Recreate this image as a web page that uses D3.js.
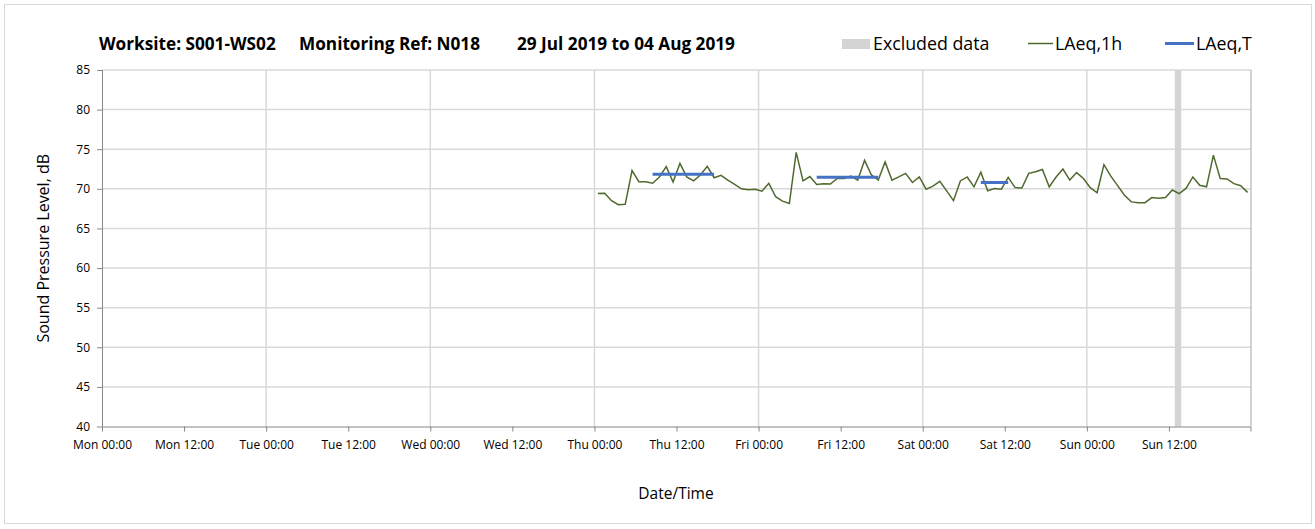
<!DOCTYPE html>
<html>
<head>
<meta charset="utf-8">
<script src="https://cdn.jsdelivr.net/npm/d3@7"></script>
<style>
  html, body { margin: 0; padding: 0; background: #fff; }
  svg text { font-family: "Open Sans", "Noto Sans", sans-serif; fill: #000; }
</style>
</head>
<body>
<svg id="chart" width="1315" height="529"></svg>
<script>
// ---- Data ----
const titleParts = ["Worksite: S001-WS02", "Monitoring Ref: N018", "29 Jul 2019 to 04 Aug 2019"];
const yTicks = [40, 45, 50, 55, 60, 65, 70, 75, 80, 85];
const weekStart = new Date(2019, 6, 29, 0, 0);   // Mon 29 Jul 2019 00:00
const weekEnd = new Date(2019, 7, 5, 0, 0);      // Mon 05 Aug 2019 00:00
const seriesStart = new Date(2019, 7, 1, 0, 30); // first hourly value (Thu 00:30 centre)
// LAeq,1h hourly values, Thu 01 Aug 00:00 .. Sun 04 Aug 23:00
const laeq1h = [
  69.4, 69.45, 68.5, 68.0, 68.05, 72.3, 70.9, 70.9, 70.7, 71.5, 72.8, 70.85,
  73.2, 71.5, 71.0, 71.75, 72.85, 71.4, 71.7, 71.1, 70.55, 70.0, 69.9, 69.95,
  69.7, 70.7, 69.0, 68.45, 68.15, 74.6, 71.0, 71.55, 70.55, 70.65, 70.6, 71.3,
  71.3, 71.6, 71.1, 73.6, 71.75, 71.1, 73.4, 71.1, 71.5, 71.95, 70.8, 71.5,
  69.95, 70.35, 70.95, 69.75, 68.5, 71.0, 71.5, 70.25, 72.1, 69.75, 70.05, 69.95,
  71.45, 70.15, 70.1, 71.95, 72.15, 72.45, 70.25, 71.5, 72.5, 71.1, 72.05, 71.3,
  70.15, 69.5, 73.05, 71.6, 70.4, 69.2, 68.35, 68.25, 68.25, 68.9, 68.8, 68.9,
  69.85, 69.4, 70.05, 71.5, 70.45, 70.25, 74.25, 71.3, 71.25, 70.65, 70.4, 69.55
];
// LAeq,T period averages
const laeqTStart = [new Date(2019, 7, 1, 8, 30), new Date(2019, 7, 2, 8, 30), new Date(2019, 7, 3, 8, 30)];
const laeqTEnd   = [new Date(2019, 7, 1, 17, 30), new Date(2019, 7, 2, 17, 30), new Date(2019, 7, 3, 12, 30)];
const laeqTValue = [71.85, 71.47, 70.8];
// Excluded data periods
const exclStart = [new Date(2019, 7, 4, 12, 52)];
const exclEnd   = [new Date(2019, 7, 4, 13, 48)];

// ---- Layout ----
const svg = d3.select("#chart");
const L = 102, R = 1251, T = 70, B = 426.5;

svg.append("rect").attr("x", 4.5).attr("y", 4.5).attr("width", 1307).attr("height", 519)
  .attr("fill", "#fff").attr("stroke", "#d9d9d9").attr("stroke-width", 1);

const x = d3.scaleTime().domain([weekStart, weekEnd]).range([L, R]);
const y = d3.scaleLinear().domain([40, 85]).range([B, T]);

// gridlines
const dayTicks = d3.timeDay.range(weekStart, weekEnd).slice(1);
svg.append("g").selectAll("line").data(dayTicks).join("line")
  .attr("x1", d => x(d)).attr("x2", d => x(d)).attr("y1", T).attr("y2", B)
  .attr("stroke", "#d9d9d9").attr("stroke-width", 1.5);
svg.append("g").selectAll("line").data(yTicks.filter(v => v > 40)).join("line")
  .attr("x1", L).attr("x2", R).attr("y1", d => y(d)).attr("y2", d => y(d))
  .attr("stroke", "#d9d9d9").attr("stroke-width", 1.5);
svg.append("line").attr("x1", R).attr("x2", R).attr("y1", T).attr("y2", B)
  .attr("stroke", "#a6a6a6").attr("stroke-width", 1);

// excluded band
svg.append("g").selectAll("rect").data(exclStart).join("rect")
  .attr("x", (d, i) => x(d)).attr("width", (d, i) => x(exclEnd[i]) - x(d))
  .attr("y", T).attr("height", B - T).attr("fill", "#d4d4d4");

// axes
const xAxis = d3.axisBottom(x)
  .tickValues(d3.timeHour.every(12).range(weekStart, weekEnd))
  .tickFormat(d3.timeFormat("%a %H:%M")).tickSize(5).tickPadding(9);
const gx = svg.append("g").attr("transform", `translate(0,${B})`).call(xAxis);
gx.select(".domain").attr("stroke", "#868686").attr("d", `M${L},0.5H${R}V5`);
gx.selectAll(".tick line").attr("stroke", "#868686");
gx.selectAll("text").attr("font-size", 12).attr("fill", "#000");

const yAxis = d3.axisLeft(y).tickValues(yTicks).tickSize(5).tickPadding(7);
const gy = svg.append("g").attr("transform", `translate(${L},0)`).call(yAxis);
gy.select(".domain").attr("stroke", "#868686").attr("d", `M0.5,${T}V${B}`);
gy.selectAll(".tick line").attr("stroke", "#868686");
gy.selectAll("text").attr("font-size", 12).attr("fill", "#000");

// LAeq,1h line
const pts = laeq1h.map((v, i) => ({ t: d3.timeHour.offset(seriesStart, i), v }));
svg.append("path").datum(pts)
  .attr("d", d3.line().x(d => x(d.t)).y(d => y(d.v)))
  .attr("fill", "none").attr("stroke", "#4f6a2e").attr("stroke-width", 1.5);

// LAeq,T segments
svg.append("g").selectAll("line").data(laeqTValue).join("line")
  .attr("x1", (d, i) => x(laeqTStart[i])).attr("x2", (d, i) => x(laeqTEnd[i]))
  .attr("y1", d => y(d)).attr("y2", d => y(d))
  .attr("stroke", "#4472c4").attr("stroke-width", 3);

// title
const titleX = [99, 299, 517];
svg.append("g").selectAll("text").data(titleParts).join("text")
  .attr("x", (d, i) => titleX[i]).attr("y", 50)
  .attr("font-size", 17.2).attr("font-weight", "bold").text(d => d);

// legend
const lg = svg.append("g");
lg.append("rect").attr("x", 842).attr("y", 39).attr("width", 28).attr("height", 10).attr("fill", "#d4d4d4");
lg.append("text").attr("x", 873).attr("y", 50).attr("font-size", 17.8).text("Excluded data");
lg.append("line").attr("x1", 1028).attr("x2", 1053).attr("y1", 43.5).attr("y2", 43.5)
  .attr("stroke", "#4f6a2e").attr("stroke-width", 1.5);
lg.append("text").attr("x", 1055).attr("y", 50).attr("font-size", 17.8).text("LAeq,1h");
lg.append("line").attr("x1", 1165).attr("x2", 1194).attr("y1", 43.5).attr("y2", 43.5)
  .attr("stroke", "#4472c4").attr("stroke-width", 3);
lg.append("text").attr("x", 1196).attr("y", 50).attr("font-size", 17.8).text("LAeq,T");

// axis titles
svg.append("text").attr("transform", `translate(49,${(T + B) / 2}) rotate(-90)`)
  .attr("text-anchor", "middle").attr("font-size", 16).text("Sound Pressure Level, dB");
svg.append("text").attr("x", 676).attr("y", 499)
  .attr("text-anchor", "middle").attr("font-size", 15.5).text("Date/Time");
</script>
</body>
</html>
